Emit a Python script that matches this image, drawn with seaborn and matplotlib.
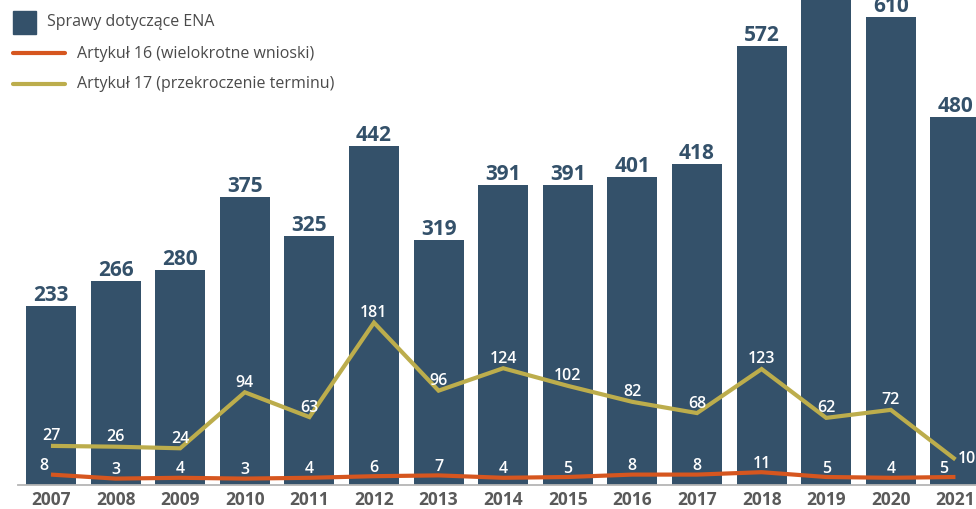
import matplotlib
matplotlib.use("Agg")
import matplotlib.pyplot as plt
from matplotlib.lines import Line2D
from matplotlib.patches import Rectangle
from matplotlib.transforms import offset_copy
import seaborn as sns

# ----------------------------------------------------------------------------
# Data
# ----------------------------------------------------------------------------
years = [str(y) for y in range(2007, 2022)]
ena_cases = [233, 266, 280, 375, 325, 442, 319, 391, 391, 401, 418, 572, 701, 610, 480]
art16 = [8, 3, 4, 3, 4, 6, 7, 4, 5, 8, 8, 11, 5, 4, 5]
art17 = [27, 26, 24, 94, 63, 181, 96, 124, 102, 82, 68, 123, 62, 72, 10]

legend_labels = [
    "Sprawy dotyczące ENA",
    "Artykuł 16 (wielokrotne wnioski)",
    "Artykuł 17 (przekroczenie terminu)",
]

BAR = "#34516a"
ORANGE = "#d6561f"
GOLD = "#bcad4c"
TEXT = "#4a4a4a"
TICK = "#5a5a5a"

sns.set_theme(style="white")
plt.rcParams["font.family"] = ["Open Sans", "DejaVu Sans"]

W, H = 976, 509
fig = plt.figure(figsize=(W / 100, H / 100), dpi=100)

# axes extend past the right/top edge, like the cropped original
ax = fig.add_axes([18 / W, 24.5 / H, 976.2 / W, 551.5 / H])

sns.barplot(x=years, y=ena_cases, color=BAR, width=0.774, saturation=1,
            ax=ax, zorder=1, linewidth=0)
ax.set_xlim(-0.51, 14.6)
ax.set_ylim(0, 720)
ax.set_xlabel("")
ax.set_ylabel("")
ax.set_yticks([])
for side in ["left", "right", "top"]:
    ax.spines[side].set_visible(False)
ax.spines["bottom"].set_color("#b5b5b5")
ax.spines["bottom"].set_linewidth(1.3)
ax.tick_params(axis="x", length=0, pad=5, labelsize=12.5, labelcolor=TICK)
for t in ax.get_xticklabels():
    t.set_fontweight("bold")

for i, v in enumerate(ena_cases):
    ax.annotate(str(v), (i, v), xytext=(0, 3.6), textcoords="offset points",
                ha="center", va="baseline", fontsize=15, fontweight="bold",
                color=BAR)

# lines on their own scale
ax2 = ax.twinx()
ax2.set_ylim(0, 689)
ax2.set_yticks([])
for s in ax2.spines.values():
    s.set_visible(False)

tr16 = offset_copy(ax2.transData, fig=fig, x=0, y=3.5, units="dots")
tr17 = offset_copy(ax2.transData, fig=fig, x=0, y=17, units="dots")

xs = list(range(len(years)))
sns.lineplot(x=xs, y=art16, color=ORANGE, linewidth=3, ax=ax2,
             transform=tr16, solid_joinstyle="round", solid_capstyle="butt")
sns.lineplot(x=xs, y=art17, color=GOLD, linewidth=3, ax=ax2,
             transform=tr17, solid_joinstyle="miter", solid_capstyle="butt")
ax2.set_xlim(-0.51, 14.6)
ax2.set_ylim(0, 689)

dx16 = {0: -5, 14: -8.5}
for i, v in enumerate(art16):
    ax2.annotate(str(v), (i, v), xycoords=tr16,
                 xytext=(dx16.get(i, 0), 3.2), textcoords="offset points",
                 ha="center", va="baseline", fontsize=11.5,
                 fontweight="semibold", color="white")

for i, v in enumerate(art17):
    if i == len(art17) - 1:
        ax2.annotate(str(v), (i, v), xycoords=tr17, xytext=(2, 0),
                     textcoords="offset points", ha="left", va="center",
                     fontsize=11.5, fontweight="semibold", color="white")
    else:
        ax2.annotate(str(v), (i, v), xycoords=tr17, xytext=(0, 4),
                     textcoords="offset points", ha="center", va="baseline",
                     fontsize=11.5, fontweight="semibold", color="white")

# legend drawn in pixel positions (top-left)
def fx(px):
    return px / W


def fy(py):
    return 1 - py / H


fig.patches.append(Rectangle((fx(13), fy(33.5)), 23 / W, 22 / H,
                             transform=fig.transFigure, color=BAR))
fig.lines.append(Line2D([fx(13), fx(65)], [fy(53.5), fy(53.5)],
                        transform=fig.transFigure, color=ORANGE, linewidth=3,
                        solid_capstyle="round"))
fig.lines.append(Line2D([fx(13), fx(65)], [fy(84), fy(84)],
                        transform=fig.transFigure, color=GOLD, linewidth=3,
                        solid_capstyle="round"))
fig.text(fx(47), fy(22.5), legend_labels[0], fontsize=11.5, color=TEXT,
         va="center", ha="left")
fig.text(fx(77), fy(54), legend_labels[1], fontsize=11.5, color=TEXT,
         va="center", ha="left")
fig.text(fx(77), fy(84), legend_labels[2], fontsize=11.5, color=TEXT,
         va="center", ha="left")

fig.savefig("out.png", dpi=100)
